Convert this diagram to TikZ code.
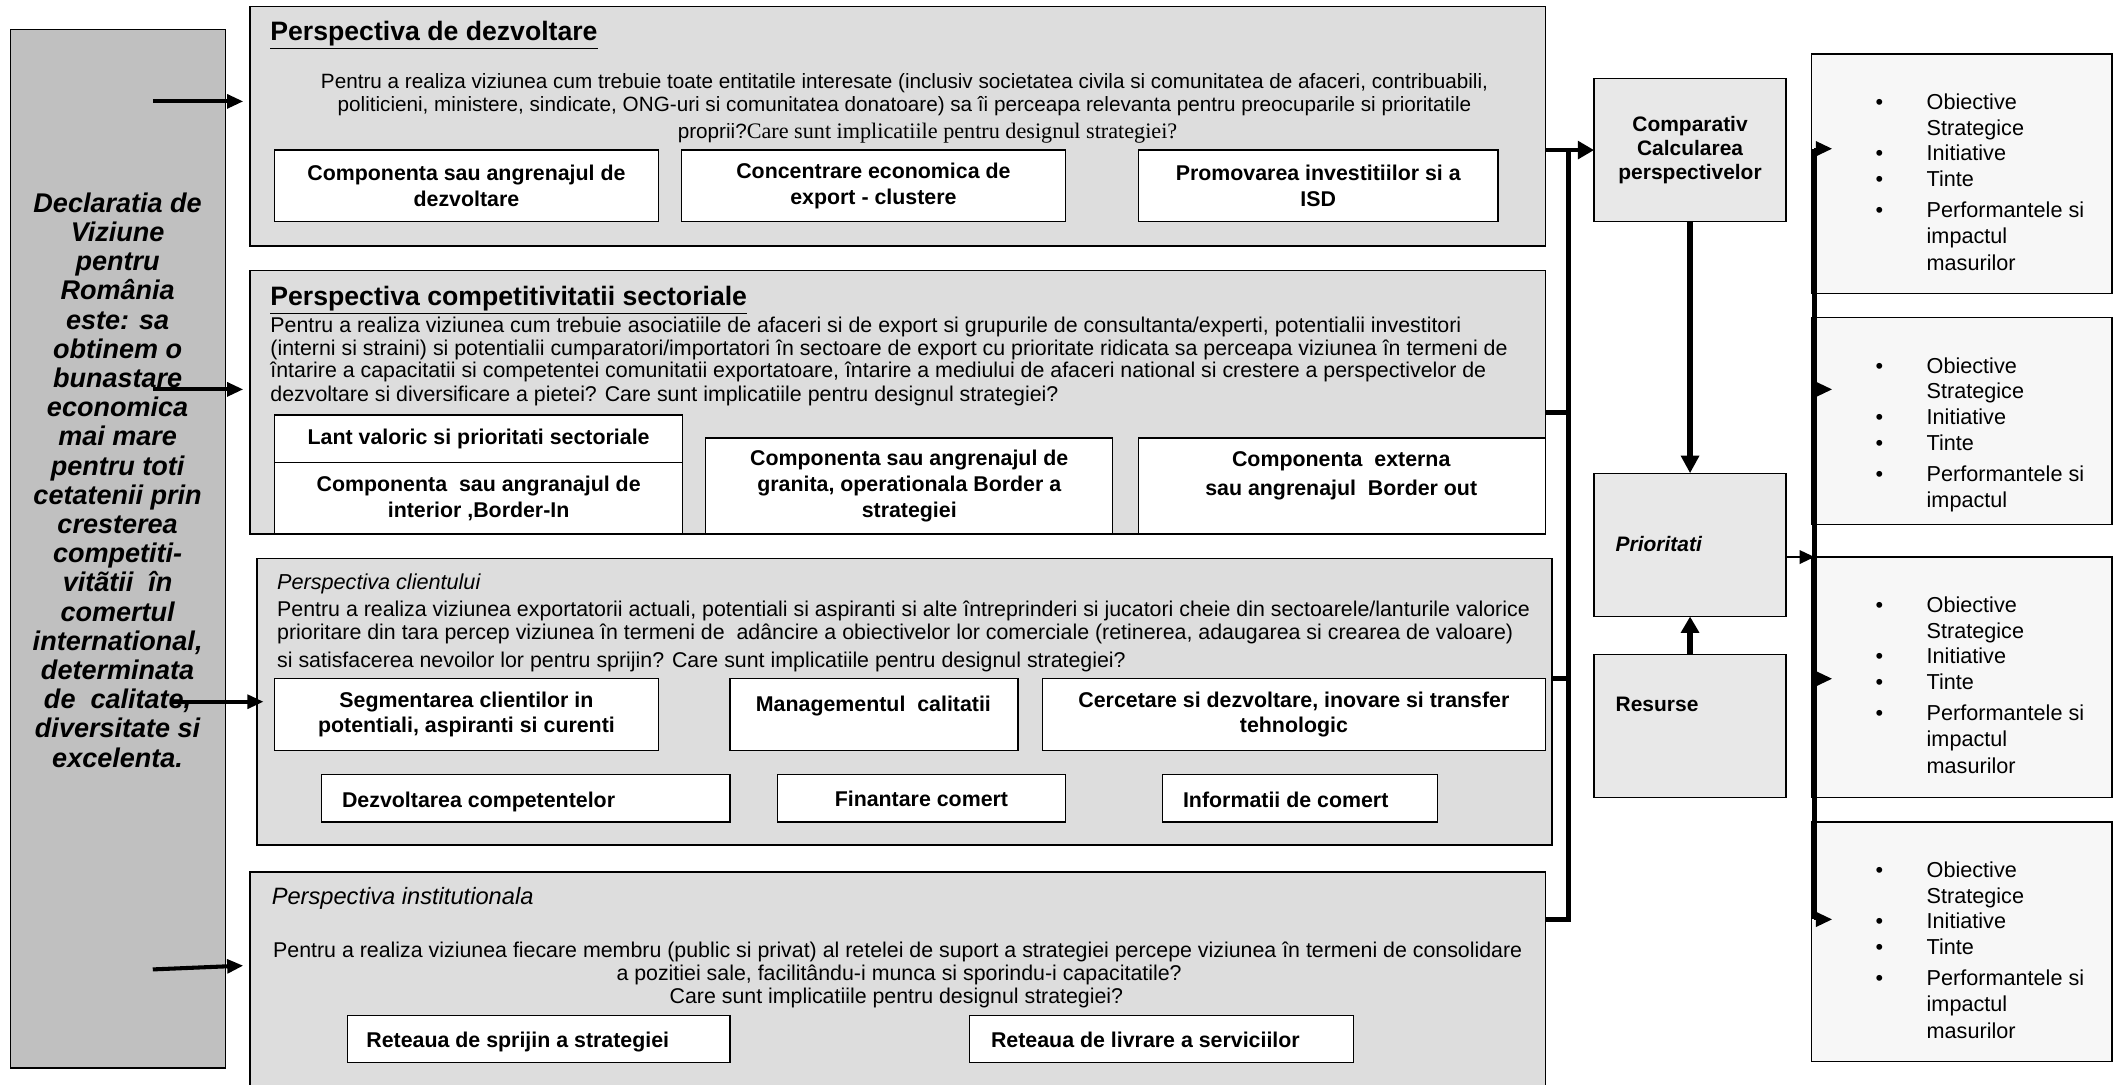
\documentclass[tikz,border=0pt]{standalone}
\usepackage{fontspec}
\setmainfont{Liberation Sans}
\newfontfamily\romanpart{Liberation Serif}
\usetikzlibrary{arrows.meta}

\definecolor{visiongray}{HTML}{C0C0C0}
\definecolor{perspgray}{HTML}{DDDDDD}
\definecolor{calcgray}{HTML}{E8E8E8}
\definecolor{goalgray}{HTML}{F7F7F7}

\tikzset{
  frame/.style={draw=black, line width=1pt, anchor=north west, inner sep=0pt, outer sep=0pt},
  vision/.style={frame, fill=visiongray},
  persp/.style={frame, fill=perspgray},
  compbox/.style={frame, fill=white, align=center, font=\fontsize{15.8}{19}\selectfont\bfseries},
  calcbox/.style={frame, fill=calcgray},
  goalbox/.style={frame, fill=goalgray},
  txt/.style={inner sep=0pt, outer sep=0pt},
  vistext/.style={txt, align=center, font=\fontsize{20}{21.6}\selectfont\bfseries\itshape},
  btitle/.style={txt, anchor=base west, font=\fontsize{19.7}{22}\selectfont\bfseries},
  ititle/.style={txt, anchor=base west, font=\fontsize{16}{18}\selectfont\itshape},
  bodyl/.style={txt, anchor=base west, font=\fontsize{15.8}{17}\selectfont},
  bodyc/.style={txt, anchor=base, font=\fontsize{15.8}{17}\selectfont},
  comptext/.style={txt, anchor=base west, font=\fontsize{15.8}{19}\selectfont\bfseries},
  calctext/.style={txt, align=center, font=\fontsize{15.5}{18}\selectfont\bfseries},
  goalitem/.style={txt, anchor=base west, font=\fontsize{16}{19}\selectfont},
  goalbullet/.style={txt, anchor=base, font=\fontsize{16}{19}\selectfont},
  busbar/.style={line width=3.5pt},
  feed/.style={line width=3pt, -{Triangle[length=12pt,width=10pt]}},
  heavy/.style={line width=4pt, -{Triangle[length=13pt,width=13pt]}},
  smallarrow/.style={line width=1.5pt, -{Triangle[length=12pt,width=11pt]}},
}

% bullet list of one goal box, #1 = name prefix, #2 = top edge of the box
\newcommand\goalitems[2]{%
  \node[goalbullet] (#1b1) at (1390,#2+41) {•};
  \node[goalitem] (#1i1) at (1425,#2+41) {Obiective};
  \node[goalitem] (#1i2) at (1425,#2+60) {Strategice};
  \node[goalbullet] (#1b2) at (1390,#2+79) {•};
  \node[goalitem] (#1i3) at (1425,#2+79) {Initiative};
  \node[goalbullet] (#1b3) at (1390,#2+98) {•};
  \node[goalitem] (#1i4) at (1425,#2+98) {Tinte};
  \node[goalbullet] (#1b4) at (1390,#2+121) {•};
  \node[goalitem] (#1i5) at (1425,#2+121) {Performantele si};
  \node[goalitem] (#1i6) at (1425,#2+140) {impactul};
}

\begin{document}
\begin{tikzpicture}[x=1pt,y=-1pt]
\useasboundingbox (0,0) rectangle (1568,802);
\clip (0,0) rectangle (1568,802);
\fill[white] (0,0) rectangle (1568,802);

% vision statement
\node[vision, minimum width=159pt, minimum height=768pt] (vis) at (8,22) {};
\node[vistext] (vistxt) at (87,355) {Declaratia de\\Viziune\\pentru\\România\\este: sa\\obtinem o\\bunastare\\economica\\mai mare\\pentru toti\\cetatenii prin\\cresterea\\competiti-\\vitãtii\ \ în\\comertul\\international,\\determinata\\de\ \ calitate,\\diversitate si\\excelenta.};

% perspective 1
\node[persp, minimum width=958pt, minimum height=177pt] (p1) at (185,5) {};
\node[btitle] (p1t) at (200,30) {\underline{Perspectiva de dezvoltare}};
\node[bodyc, font=\fontsize{15.3}{17}\selectfont] (p1l1) at (669,65.5) {Pentru a realiza viziunea cum trebuie toate entitatile interesate (inclusiv societatea civila si comunitatea de afaceri, contribuabili,};
\node[bodyc, font=\fontsize{15.3}{17}\selectfont] (p1l2) at (669,82.5) {politicieni, ministere, sindicate, ONG-uri si comunitatea donatoare) sa îi perceapa relevanta pentru preocuparile si prioritatile};
\node[bodyc, font=\fontsize{15.3}{17}\selectfont] (p1l3) at (686,102.5) {proprii?{\romanpart\fontsize{16.4}{18}\selectfont Care sunt implicatiile pentru designul strategiei?}};
\node[compbox, minimum width=284pt, minimum height=53pt] (s11) at (203,111) {Componenta sau angrenajul de\\dezvoltare};
\node[compbox, minimum width=284pt, minimum height=53pt] (s12) at (504,111) {Concentrare economica de\\export - clustere};
\node[compbox, minimum width=266pt, minimum height=53pt] (s13) at (842,111) {Promovarea investitiilor si a\\ISD};

% perspective 2
\node[persp, minimum width=958pt, minimum height=195pt] (p2) at (185,200) {};
\node[btitle] (p2t) at (200,226) {\underline{Perspectiva competitivitatii sectoriale}};
\node[bodyl] (p2l1) at (200,246) {Pentru a realiza viziunea cum trebuie asociatiile de afaceri si de export si grupurile de consultanta/experti, potentialii investitori};
\node[bodyl] (p2l2) at (200,263) {(interni si straini) si potentialii cumparatori/importatori în sectoare de export cu prioritate ridicata sa perceapa viziunea în termeni de};
\node[bodyl] (p2l3) at (200,279.5) {întarire a capacitatii si competentei comunitatii exportatoare, întarire a mediului de afaceri national si crestere a perspectivelor de};
\node[bodyl] (p2l4) at (200,297) {dezvoltare si diversificare a pietei? Care sunt implicatiile pentru designul strategiei?};
\node[compbox, minimum width=302pt, minimum height=35pt] (s21) at (203,307) {Lant valoric si prioritati sectoriale};
\node[compbox, minimum width=302pt, minimum height=53pt] (s22) at (203,342) {Componenta\ \ sau angranajul de\\interior ,Border-In};
\node[compbox, minimum width=301pt, minimum height=71pt] (s23) at (522,324) {Componenta sau angrenajul de\\granita, operationala Border a\\strategiei};
\node[compbox, minimum width=301pt, minimum height=71pt] (s24) at (842,324) {};
\node[calctext, font=\fontsize{15.8}{22}\selectfont\bfseries] (s24t) at (992,352) {Componenta\ \ externa\\sau angrenajul\ \ Border out};

% perspective 3
\node[persp, minimum width=958pt, minimum height=212pt] (p3) at (190,413) {};
\node[ititle] (p3t) at (205,436) {Perspectiva clientului};
\node[bodyl] (p3l1) at (205,456) {Pentru a realiza viziunea exportatorii actuali, potentiali si aspiranti si alte întreprinderi si jucatori cheie din sectoarele/lanturile valorice};
\node[bodyl] (p3l2) at (205,473) {prioritare din tara percep viziunea în termeni de\ \ adâncire a obiectivelor lor comerciale (retinerea, adaugarea si crearea de valoare)};
\node[bodyl] (p3l3) at (205,494) {si satisfacerea nevoilor lor pentru sprijin? Care sunt implicatiile pentru designul strategiei?};
\node[compbox, minimum width=284pt, minimum height=53pt] (s31) at (203,502) {Segmentarea clientilor in\\potentiali, aspiranti si curenti};
\node[compbox, minimum width=213pt, minimum height=53pt] (s32) at (540,502) {};
\node[comptext, anchor=base] (s32t) at (646,526) {Managementul\ \ calitatii};
\node[compbox, minimum width=372pt, minimum height=53pt] (s33) at (771,502) {Cercetare si dezvoltare, inovare si transfer\\tehnologic};
\node[compbox, minimum width=302pt, minimum height=35pt] (s34) at (238,573) {};
\node[comptext] (s34t) at (253,597) {Dezvoltarea competentelor};
\node[compbox, minimum width=213pt, minimum height=35pt] (s35) at (575,573) {Finantare comert};
\node[compbox, minimum width=203pt, minimum height=35pt] (s36) at (860,573) {};
\node[comptext] (s36t) at (875,597) {Informatii de comert};

% perspective 4
\node[persp, minimum width=958pt, minimum height=175pt] (p4) at (185,645) {};
\node[ititle, font=\fontsize{17.5}{20}\selectfont\itshape] (p4t) at (201,669) {Perspectiva institutionala};
\node[bodyc] (p4l1) at (664,708) {Pentru a realiza viziunea fiecare membru (public si privat) al retelei de suport a strategiei percepe viziunea în termeni de consolidare};
\node[bodyc] (p4l2) at (665,725) {a pozitiei sale, facilitându-i munca si sporindu-i capacitatile?};
\node[bodyc] (p4l3) at (663,742) {Care sunt implicatiile pentru designul strategiei?};
\node[compbox, minimum width=283pt, minimum height=35pt] (s41) at (257,751) {};
\node[comptext] (s41t) at (271,775) {Reteaua de sprijin a strategiei};
\node[compbox, minimum width=284pt, minimum height=35pt] (s42) at (717,751) {};
\node[comptext] (s42t) at (733,775) {Reteaua de livrare a serviciilor};

% arrows from the vision statement
\coordinate (v1) at (113,75);
\coordinate (v2) at (113,288);
\coordinate (v3) at (126,519);
\coordinate (v4) at (113,717);
\draw[feed, shorten >=5pt] (v1) -- (v1 -| p1.west);
\draw[feed, shorten >=5pt] (v2) -- (v2 -| p2.west);
\draw[feed, shorten >=8pt] (v3) -- (v3 -| s31.west);
\draw[feed, shorten >=5pt] (v4) -- ([yshift=3pt]v4 -| p4.west);

% calculation column
\node[calcbox, minimum width=142pt, minimum height=106pt] (calc) at (1179,58) {};
\node[calctext] (calct) at (calc.center) {Comparativ\\Calcularea\\perspectivelor};
\node[calcbox, minimum width=142pt, minimum height=106pt] (prio) at (1179,350) {};
\node[comptext, font=\fontsize{15.5}{18}\selectfont\bfseries\itshape] (priot) at (1195,408) {Prioritati};
\node[calcbox, minimum width=142pt, minimum height=106pt] (res) at (1179,484) {};
\node[comptext, font=\fontsize{15.5}{18}\selectfont\bfseries] (rest) at (1195,526) {Resurse};

% collecting bus between the perspectives and the calculation
\coordinate (j1) at (1160,111);
\coordinate (j2) at (1160,305);
\coordinate (j3) at (1160,502);
\coordinate (j4) at (1160,680);
\draw[busbar, line cap=rect] (j1) -- (j4);
\draw[busbar] (j2 -| p2.east) -- (j2);
\draw[busbar] (j3 -| p3.east) -- (j3);
\draw[busbar] (j4 -| p4.east) -- (j4);
\draw[feed, line width=3.5pt, -{Triangle[length=12pt,width=13pt]}] (j1 -| p1.east) -- (calc.west);

\draw[heavy] (calc.south) -- (prio.north);
\draw[heavy, -{Triangle[length=12pt,width=13pt]}] (res.north) -- (prio.south);

% goal boxes
\node[goalbox, minimum width=222pt, minimum height=177pt] (gA) at (1340,40) {};
\node[goalbox, minimum width=222pt, minimum height=153pt] (gB) at (1340,235) {};
\node[goalbox, minimum width=222pt, minimum height=178pt] (gC) at (1340,412) {};
\node[goalbox, minimum width=222pt, minimum height=177pt] (gD) at (1340,608) {};
\goalitems{A}{40}
\node[goalitem] (Ai7) at (1425,200) {masurilor};
\goalitems{B}{235}
\goalitems{C}{412}
\node[goalitem] (Ci7) at (1425,572) {masurilor};
\goalitems{D}{608}
\node[goalitem] (Di7) at (1425,768) {masurilor};

% distribution bus towards the goal boxes
\coordinate (k1) at (1342,110);
\coordinate (k2) at (1342,288);
\coordinate (k3) at (1342,502);
\coordinate (k4) at (1342,680);
\coordinate (kp) at (1342,412);
\draw[busbar] (k1) -- (k4);
\draw[smallarrow] (k1) -- ([xshift=15pt]k1 -| gA.west);
\draw[smallarrow] (k2) -- ([xshift=15pt]k2 -| gB.west);
\draw[smallarrow] (k3) -- ([xshift=15pt]k3 -| gC.west);
\draw[smallarrow] (k4) -- ([xshift=15pt]k4 -| gD.west);
\draw[smallarrow, -{Triangle[length=11pt,width=10pt]}] (kp -| prio.east) -- (kp);
\end{tikzpicture}
\end{document}
